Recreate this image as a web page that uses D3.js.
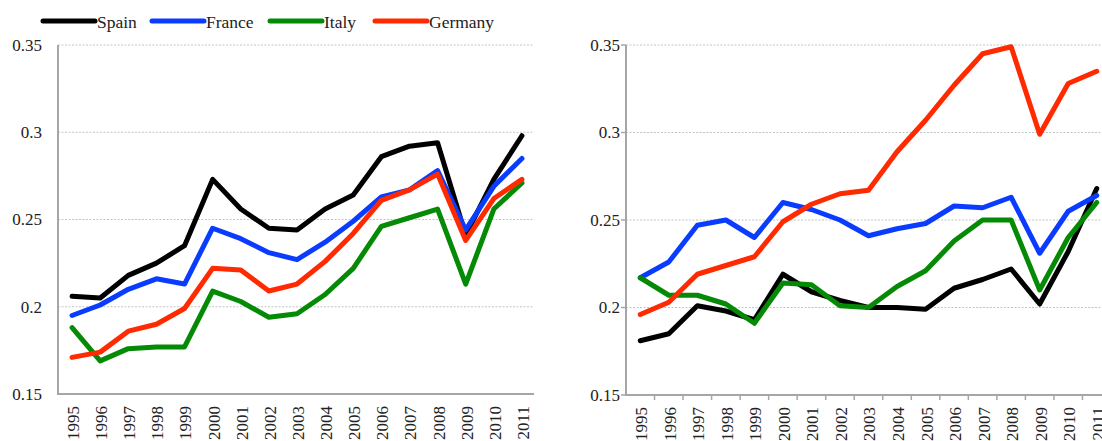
<!DOCTYPE html>
<html lang="en">
<head>
  <meta charset="UTF-8">
  <title>Spain, France, Italy, Germany 1995-2011</title>
  <script src="https://d3js.org/d3.v7.min.js"></script>
  <style>
    body { margin: 0; background: #fff; }
    svg { display: block; }
  </style>
</head>
<body>
  <svg id="chart"></svg>

  <script>
    const years = ["1995","1996","1997","1998","1999","2000","2001","2002","2003",
                   "2004","2005","2006","2007","2008","2009","2010","2011"];
    const yTicks = [0.15, 0.2, 0.25, 0.3, 0.35];
    const yTickLabels = ["0.15", "0.2", "0.25", "0.3", "0.35"];
    const countries = ["Spain", "France", "Italy", "Germany"];
    const colors = ["#000000", "#0a3cff", "#058a05", "#ff2a00"];

    // left panel
    const leftSpain   = [0.206,0.205,0.218,0.225,0.235,0.273,0.256,0.245,0.244,0.256,0.264,0.286,0.292,0.294,0.241,0.273,0.298];
    const leftFrance  = [0.195,0.201,0.210,0.216,0.213,0.245,0.239,0.231,0.227,0.237,0.249,0.263,0.267,0.278,0.244,0.269,0.285];
    const leftItaly   = [0.188,0.169,0.176,0.177,0.177,0.209,0.203,0.194,0.196,0.207,0.222,0.246,0.251,0.256,0.213,0.256,0.271];
    const leftGermany = [0.171,0.174,0.186,0.190,0.199,0.222,0.221,0.209,0.213,0.226,0.242,0.261,0.267,0.276,0.238,0.262,0.273];

    // right panel
    const rightSpain   = [0.181,0.185,0.201,0.198,0.193,0.219,0.209,0.204,0.200,0.200,0.199,0.211,0.216,0.222,0.202,0.232,0.268];
    const rightFrance  = [0.217,0.226,0.247,0.250,0.240,0.260,0.256,0.250,0.241,0.245,0.248,0.258,0.257,0.263,0.231,0.255,0.264];
    const rightItaly   = [0.217,0.207,0.207,0.202,0.191,0.214,0.213,0.201,0.200,0.212,0.221,0.238,0.250,0.250,0.210,0.240,0.260];
    const rightGermany = [0.196,0.203,0.219,0.224,0.229,0.249,0.259,0.265,0.267,0.289,0.307,0.327,0.345,0.349,0.299,0.328,0.335];

    const width = 1102, height = 441;
    const svg = d3.select("#chart").attr("width", width).attr("height", height);
    const serif = "'Liberation Serif', 'Times New Roman', serif";

    const axisColor = "#a6a6a6";
    const gridColor = "#c4c4c4";

    function panel(opts) {
      const g = svg.append("g");
      const x = d3.scaleBand().domain(years).range([opts.x0, opts.x1]);
      const y = d3.scaleLinear().domain([0.15, 0.35]).range([opts.yBottom, opts.yTop]);

      // gridlines
      g.selectAll(".grid")
        .data(yTicks.slice(1))
        .enter()
        .append("line")
        .attr("x1", opts.x0)
        .attr("x2", opts.gridEnd)
        .attr("y1", d => y(d))
        .attr("y2", d => y(d))
        .attr("stroke", gridColor)
        .attr("stroke-width", 1)
        .attr("stroke-dasharray", "2,1.5");

      // axis lines
      g.append("line")
        .attr("x1", opts.x0).attr("x2", opts.x0)
        .attr("y1", y(0.35)).attr("y2", y(0.15))
        .attr("stroke", axisColor).attr("stroke-width", 2);
      g.append("line")
        .attr("x1", opts.x0 - 1).attr("x2", opts.gridEnd)
        .attr("y1", y(0.15)).attr("y2", y(0.15))
        .attr("stroke", axisColor).attr("stroke-width", 2);

      if (opts.ticks) {
        g.selectAll(".ytick")
          .data(yTicks)
          .enter()
          .append("line")
          .attr("x1", opts.x0 - 5).attr("x2", opts.x0)
          .attr("y1", d => y(d)).attr("y2", d => y(d))
          .attr("stroke", axisColor).attr("stroke-width", 1.5);
        g.selectAll(".xtick")
          .data(years)
          .enter()
          .append("line")
          .attr("x1", d => x(d) + x.bandwidth()).attr("x2", d => x(d) + x.bandwidth())
          .attr("y1", y(0.15)).attr("y2", y(0.15) + 5)
          .attr("stroke", axisColor).attr("stroke-width", 1.5);
      }

      // y labels
      g.selectAll(".ylab")
        .data(yTicks)
        .enter()
        .append("text")
        .attr("x", opts.labelX)
        .attr("y", d => y(d))
        .attr("dy", "0.35em")
        .attr("text-anchor", "end")
        .style("font-family", serif)
        .style("font-size", "17px")
        .attr("fill", "#222")
        .text((d, i) => yTickLabels[i]);

      // x labels
      g.selectAll(".xlab")
        .data(years)
        .enter()
        .append("text")
        .attr("transform", d => `translate(${x(d) + x.bandwidth() / 2 + 1}, ${y(0.15) + 12}) rotate(-90)`)
        .attr("dy", "0.35em")
        .attr("text-anchor", "end")
        .style("font-family", serif)
        .style("font-size", "17px")
        .attr("fill", "#222")
        .text(d => d);

      const line = d3.line()
        .x((d, i) => x(years[i]) + x.bandwidth() / 2)
        .y(d => y(d));

      g.selectAll(".series")
        .data(opts.series)
        .enter()
        .append("path")
        .attr("d", d => line(d))
        .attr("fill", "none")
        .attr("stroke", (d, i) => colors[i])
        .attr("stroke-width", 5)
        .attr("stroke-linejoin", "round")
        .attr("stroke-linecap", "round");
    }

    panel({
      x0: 58, x1: 536, gridEnd: 534, yTop: 45, yBottom: 394, labelX: 42, ticks: false,
      series: [leftSpain, leftFrance, leftItaly, leftGermany]
    });

    panel({
      x0: 626, x1: 1111, gridEnd: 1102, yTop: 45, yBottom: 395, labelX: 620, ticks: true,
      series: [rightSpain, rightFrance, rightItaly, rightGermany]
    });

    // legend
    const legendX = [43, 152, 270, 375];
    const legend = svg.append("g");
    legend.selectAll("line")
      .data(countries)
      .enter()
      .append("line")
      .attr("x1", (d, i) => legendX[i])
      .attr("x2", (d, i) => legendX[i] + 52)
      .attr("y1", 21).attr("y2", 21)
      .attr("stroke", (d, i) => colors[i])
      .attr("stroke-width", 5)
      .attr("stroke-linecap", "round");
    legend.selectAll("text")
      .data(countries)
      .enter()
      .append("text")
      .attr("x", (d, i) => legendX[i] + 54)
      .attr("y", 22)
      .attr("dy", "0.35em")
      .style("font-family", serif)
      .style("font-size", "17.5px")
      .attr("fill", "#222")
      .text(d => d);
  </script>
</body>
</html>
